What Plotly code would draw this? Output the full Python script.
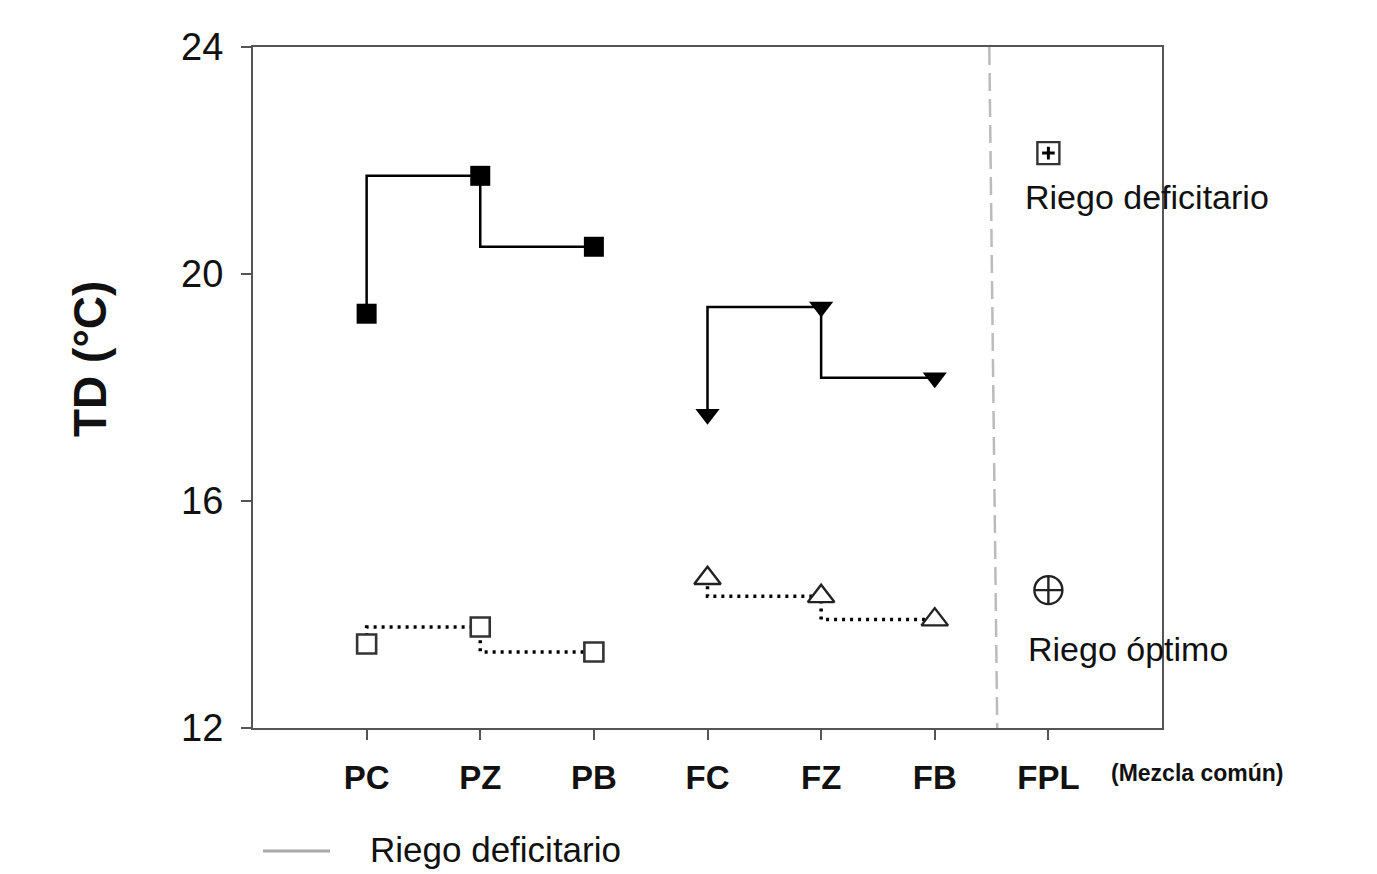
import plotly.graph_objects as go

categories = ["PC", "PZ", "PB", "FC", "FZ", "FB", "FPL"]
cat_pos = [1, 2, 3, 4, 5, 6, 7]

p_deficit = [19.3, 21.73, 20.48]      # PC, PZ, PB  (filled squares)
p_optimo = [13.48, 13.78, 13.34]      # open squares
f_deficit = [17.53, 19.42, 18.17]     # FC, FZ, FB  (filled down triangles)
f_optimo = [14.64, 14.32, 13.91]      # open triangles
fpl_deficit = [22.13]
fpl_optimo = [14.43]

y_ticks = [12, 16, 20, 24]

FONT = "Liberation Sans, Arial, sans-serif"

# plot-area geometry (pixels) for paper-referenced extras
L, R, T, B, W, H = 253, 215, 47, 146, 1377, 874
PW, PH = W - L - R, H - T - B


def px_x(x):
    return (x - L) / PW


def px_y(y):
    return (H - B - y) / PH


fig = go.Figure()

fig.add_trace(go.Scatter(
    x=cat_pos[0:3], y=p_deficit, mode="lines+markers", line_shape="vh",
    line=dict(color="black", width=2.5),
    marker=dict(symbol="square", size=20, color="black"),
    showlegend=False))
fig.add_trace(go.Scatter(
    x=cat_pos[0:3], y=p_optimo, mode="lines+markers", line_shape="vh",
    line=dict(color="black", width=3.5, dash="3px,5px"),
    marker=dict(symbol="square", size=19, color="white",
                line=dict(width=2.6, color="#333")),
    showlegend=False))
fig.add_trace(go.Scatter(
    x=cat_pos[3:6], y=f_deficit, mode="lines+markers", line_shape="vh",
    line=dict(color="black", width=2.5),
    marker=dict(symbol="triangle-down", size=21, color="black"),
    showlegend=False))
fig.add_trace(go.Scatter(
    x=cat_pos[3:6], y=f_optimo, mode="lines+markers", line_shape="vh",
    line=dict(color="black", width=3.5, dash="3px,5px"),
    marker=dict(symbol="triangle-up", size=23, color="white",
                line=dict(width=2.4, color="#222")),
    showlegend=False))
fig.add_trace(go.Scatter(
    x=[cat_pos[6]], y=fpl_deficit, mode="markers",
    marker=dict(symbol="square", size=22, color="white",
                line=dict(width=2.4, color="#333")),
    showlegend=False))
fig.add_trace(go.Scatter(
    x=[cat_pos[6]], y=fpl_deficit, mode="markers",
    marker=dict(symbol="cross-thin-open", size=9, color="black", line=dict(width=3)),
    showlegend=False))
fig.add_trace(go.Scatter(
    x=[cat_pos[6]], y=fpl_optimo, mode="markers",
    marker=dict(symbol="circle-cross-open", size=28, color="#222", line=dict(width=2.4)),
    showlegend=False))

# gray dashed separator
fig.add_shape(type="line", x0=6.48, x1=6.55, y0=24, y1=12, xref="x", yref="y",
              line=dict(color="#bbbbbb", width=2.5, dash="18px,8px"))

# text labels in plot
fig.add_annotation(x=6.78, y=21.35, xref="x", yref="y", text="Riego deficitario",
                   showarrow=False, xanchor="left",
                   font=dict(family=FONT, size=34, color="#111"))
fig.add_annotation(x=6.80, y=13.4, xref="x", yref="y", text="Riego óptimo",
                   showarrow=False, xanchor="left",
                   font=dict(family=FONT, size=34, color="#111"))
fig.add_annotation(x=px_x(1197), y=px_y(773), xref="paper", yref="paper",
                   text="<b>(Mezcla común)</b>", showarrow=False,
                   xanchor="center", yanchor="middle",
                   font=dict(family=FONT, size=23, color="#111"))

# y-axis title
fig.add_annotation(x=px_x(90), y=px_y(359), xref="paper", yref="paper",
                   text="<b>TD (°C)</b>", showarrow=False, textangle=-90,
                   xanchor="center", yanchor="middle",
                   font=dict(family=FONT, size=46, color="#111"))

# bottom legend
fig.add_shape(type="line", xref="paper", yref="paper",
              x0=px_x(263), x1=px_x(330), y0=px_y(851), y1=px_y(851),
              line=dict(color="#aaaaaa", width=3))
fig.add_annotation(xref="paper", yref="paper", x=px_x(368), y=px_y(849),
                   xanchor="left", yanchor="middle",
                   text="Riego deficitario", showarrow=False,
                   font=dict(family=FONT, size=35, color="#111"))

fig.update_layout(
    width=W, height=H,
    margin=dict(l=L, r=R, t=T, b=B),
    plot_bgcolor="white", paper_bgcolor="white",
    showlegend=False,
    xaxis=dict(range=[0, 8], tickmode="array", tickvals=cat_pos,
               ticktext=["<b>%s</b>" % c for c in categories],
               showline=True, linecolor="#555", linewidth=2, mirror=True,
               ticks="outside", ticklen=10, tickwidth=1.5, tickcolor="#555",
               ticklabelstandoff=9,
               showgrid=False, zeroline=False,
               tickfont=dict(family=FONT, size=33, color="#111")),
    yaxis=dict(range=[12, 24], tickmode="array", tickvals=y_ticks,
               showline=True, linecolor="#555", linewidth=2, mirror=True,
               ticks="outside", ticklen=10, tickwidth=1.5, tickcolor="#555",
               ticklabelstandoff=10,
               showgrid=False, zeroline=False,
               tickfont=dict(family=FONT, size=38, color="#111")),
)

fig.write_html("out.html")
